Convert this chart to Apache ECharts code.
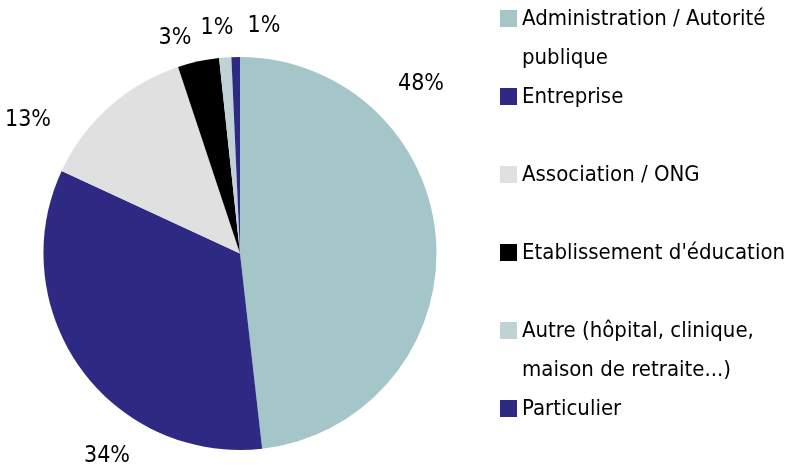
<!DOCTYPE html>
<html>
<head>
<meta charset="utf-8">
<script src="https://cdn.jsdelivr.net/npm/echarts@6/dist/echarts.min.js"></script>
<style>
  html, body { margin: 0; padding: 0; background: #fff; }
  #chart { width: 787px; height: 468px; }
</style>
</head>
<body>
<div id="chart"></div>
<script>
// categories, in the order they go round the pie (clockwise from 12 o'clock)
var categories = [
    "Administration / Autorité publique",
    "Entreprise",
    "Association / ONG",
    "Etablissement d'éducation",
    "Autre (hôpital, clinique, maison de retraite...)",
    "Particulier"
];
// shares in %
var shares = [48.2, 33.7, 13.0, 3.4, 1.0, 0.7];
// legend text as it wraps in the picture (one-line entries keep an empty 2nd line)
var legendLines = [
    "Administration / Autorité\npublique",
    "Entreprise\n ",
    "Association / ONG\n ",
    "Etablissement d'éducation\n ",
    "Autre (hôpital, clinique,\nmaison de retraite...)",
    "Particulier\n "
];

var colors = ["#a5c6c8", "#2e2a84", "#e0e0e0", "#000000", "#bfd3d6", "#2e2a84"];
var font = "'Liberation Sans Narrow', 'DejaVu Sans Condensed', 'Liberation Sans', sans-serif";

// where the percentage labels sit (label centres, px)
var labelSpots = [[421, 84], [107, 456], [28, 120], [175, 38], [217, 28], [264, 26]];

var chart = echarts.init(document.getElementById("chart"), null, { renderer: "canvas" });

var pieData = categories.map(function(name, i) {
    return { name: name, value: shares[i], itemStyle: { color: colors[i] } };
});

var option = {
    animation: false,
    backgroundColor: "#ffffff",
    legend: {
        orient: "vertical",
        left: 500,
        top: 0,
        height: 520,
        padding: 0,
        itemWidth: 17,
        itemHeight: 78,
        itemGap: 0,
        icon: "path://M0,0h0.01v0.01h-0.01z M0,10h17v17h-17z M0,77.99h0.01v0.01h-0.01z",
        itemStyle: { borderWidth: 0 },
        selectedMode: false,
        data: categories,
        formatter: function(name) {
            return legendLines[categories.indexOf(name)];
        },
        textStyle: {
            fontFamily: font,
            fontSize: 22,
            lineHeight: 39,
            color: "#000"
        }
    },
    series: [
        {
            type: "pie",
            center: [240, 253.5],
            radius: 196.5,
            startAngle: 90,
            clockwise: true,
            avoidLabelOverlap: false,
            silent: true,
            data: pieData,
            label: {
                show: true,
                position: "outside",
                fontFamily: font,
                fontSize: 23,
                color: "#000",
                formatter: function(p) {
                    return Math.round(p.percent) + "%";
                }
            },
            labelLine: { show: false },
            labelLayout: function(params) {
                var spot = labelSpots[params.dataIndex];
                return { x: spot[0], y: spot[1], align: "center", verticalAlign: "middle" };
            }
        }
    ]
};

chart.setOption(option);
</script>
</body>
</html>
